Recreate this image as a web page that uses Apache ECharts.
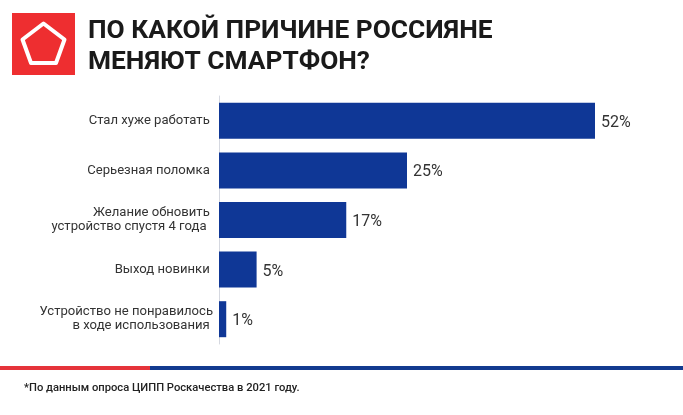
<!DOCTYPE html>
<html><head><meta charset="utf-8">
<style>html,body{margin:0;padding:0;background:#fff}#c{width:683px;height:415px}</style>
<script src="https://cdn.jsdelivr.net/npm/echarts@6/dist/echarts.min.js"></script>
</head><body><div id="c"></div>
<script>
const categories = ['Стал хуже работать ','Серьезная поломка ','Желание обновить \nустройство спустя 4 года  ','Выход новинки ','Устройство не понравилось\nв ходе использования '];
const barLengths = [52,26,17.6,5.2,1];
const printedLabels = ['52%','25%','17%','5%','1%'];
const titleLines = 'ПО КАКОЙ ПРИЧИНЕ РОССИЯНЕ\nМЕНЯЮТ СМАРТФОН?';
const footnote = '*По данным опроса ЦИПП Роскачества в 2021 году.';
const chart = echarts.init(document.getElementById('c'),null,{renderer:'canvas'});
chart.setOption({
  animation:false,
  backgroundColor:'#fff',
  title:[
    {text:titleLines,left:88,top:16,padding:0,textStyle:{fontFamily:'Roboto',fontWeight:'bold',fontSize:26.3,lineHeight:31,color:'#1a1a1a'}},
    {text:footnote,left:24,top:383,padding:0,textStyle:{fontFamily:'Roboto',fontWeight:500,fontSize:11.2,color:'#222'}}
  ],
  grid:{left:219,top:96,width:376,height:248,containLabel:false},
  xAxis:{type:'value',min:0,max:52,show:false},
  yAxis:{type:'category',inverse:true,data:categories,
    axisLine:{show:true,lineStyle:{color:'#d5d8e0',width:1}},axisTick:{show:false},
    axisLabel:{margin:6,align:'right',fontFamily:'Roboto',fontSize:13.1,lineHeight:14,color:'#333'}},
  series:[{type:'bar',data:barLengths,barWidth:36,itemStyle:{color:'#0f3796'},
    label:{show:true,position:'right',distance:6,offset:[0,2],formatter:p=>printedLabels[p.dataIndex],fontFamily:'Roboto',fontSize:16,color:'#333'}}],
  graphic:[
    {type:'rect',shape:{x:12,y:13,width:63,height:62},style:{fill:'#ee2e30'}},
    {type:'polygon',shape:{points:[[43.5,23.5],[64.5,39.5],[56,63],[31,63],[22.5,39.5]]},style:{fill:'none',stroke:'#fff',lineWidth:4,lineJoin:'round'}},
    {type:'rect',shape:{x:0,y:366,width:150,height:4},style:{fill:'#e5333a'}},
    {type:'rect',shape:{x:150,y:366,width:533,height:4},style:{fill:'#123a8f'}}
  ]
});
</script></body></html>
